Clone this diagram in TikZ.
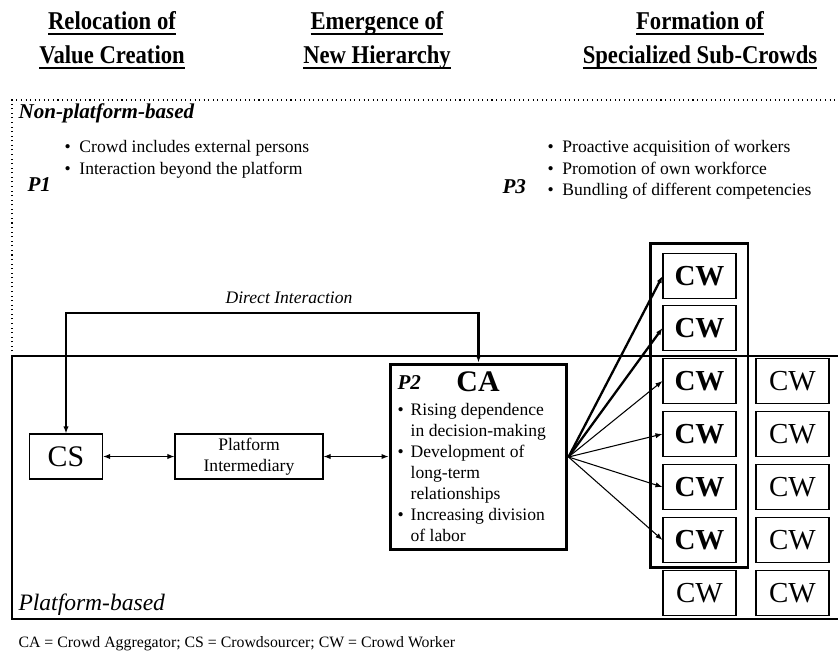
\documentclass[tikz,border=0pt]{standalone}
\usepackage{fontspec}
\setmainfont{Liberation Serif}
\usetikzlibrary{arrows.meta}

\newcommand{\headline}[1]{\scalebox{1}[1.13]{\setbox0\hbox{#1}\rlap{\rule[-2.9pt]{\wd0}{1pt}}\box0}}

\begin{document}
\begin{tikzpicture}[x=0.02cm, y=-0.02cm, line width=0.6pt,
    every node/.style={inner sep=0pt},
    head/.style={font=\bfseries\fontsize{12.9}{17}\selectfont, anchor=base},
    cwbox/.style={draw, minimum width=1.46cm, minimum height=0.9cm, font=\fontsize{16.5}{18}\selectfont},
    cwbold/.style={cwbox, font=\bfseries\fontsize{16.5}{18}\selectfont},
    flow/.style={->, >={Latex[length=4pt,width=3pt]}},
    strong/.style={flow, line width=1.3pt},
    prop/.style={font=\bfseries\itshape\fontsize{12}{14}\selectfont},
    bullets/.style={anchor=north west, font=\fontsize{10}{12.3}\selectfont}]

    \useasboundingbox (0,0) rectangle (838,656);

    % Headings
    \node[head] (h1a) at (112,29) {\headline{Relocation of}};
    \node[head] (h1b) at (112,63) {\headline{Value Creation}};
    \node[head] (h2a) at (377,29) {\headline{Emergence of}};
    \node[head] (h2b) at (377,63) {\headline{New Hierarchy}};
    \node[head] (h3a) at (700,29) {\headline{Formation of}};
    \node[head] (h3b) at (700,63) {\headline{Specialized Sub-Crowds}};

    % Regions
    \draw[dotted] (12,356) -- (12,100) -- (838,100);
    \draw (838,356) -- (12,356) -- (12,619) -- (838,619);
    \node[anchor=west, font=\bfseries\itshape\fontsize{12}{14}\selectfont] (npb) at (18,113) {Non-platform-based};
    \node[anchor=west, font=\itshape\fontsize{13.4}{15}\selectfont] (pb) at (18,605) {Platform-based};

    % Propositions outside the platform
    \node[prop, anchor=west] (p1) at (27,185) {P1};
    \node[bullets] (p1list) at (64,137)
        {\begin{tabular}{@{}l@{\hspace{5pt}}l@{}}
        \textbullet & Crowd includes external persons\\
        \textbullet & Interaction beyond the platform
        \end{tabular}};
    \node[prop, anchor=west] (p3) at (502,187) {P3};
    \node[bullets] (p3list) at (547,137)
        {\begin{tabular}{@{}l@{\hspace{5pt}}l@{}}
        \textbullet & Proactive acquisition of workers\\
        \textbullet & Promotion of own workforce\\
        \textbullet & Bundling of different competencies
        \end{tabular}};

    % Platform-based actors
    \node[draw, minimum width=1.46cm, minimum height=0.9cm, font=\fontsize{17}{19}\selectfont] (cs) at (66,456.5) {CS};
    \node[draw, minimum width=2.96cm, minimum height=0.9cm, align=center, font=\fontsize{10}{12}\selectfont] (pi) at (249,456.5) {Platform\\Intermediary};
    \node[draw, line width=1.7pt, minimum width=3.54cm, minimum height=3.72cm] (ca) at (478.5,457) {};
    \node[prop, anchor=west] (p2) at (397,383) {P2};
    \node[font=\bfseries\fontsize{17}{19}\selectfont] (calabel) at (478,382) {CA};
    \node[bullets, font=\fontsize{10}{12}\selectfont] (p2list) at (397,400)
        {\begin{tabular}{@{}l@{\hspace{4pt}}l@{}}
        \textbullet & Rising dependence\\
                    & in decision-making\\
        \textbullet & Development of\\
                    & long-term\\
                    & relationships\\
        \textbullet & Increasing division\\
                    & of labor
        \end{tabular}};

    % Crowd workers
    \node[draw, line width=1.7pt, minimum width=1.96cm, minimum height=6.5cm] (sub) at (699,405.5) {};
    \foreach \r/\y in {1/276,2/328,3/381,4/434,5/487,6/540}
        \node[cwbold] (cw\r) at (699.5,\y) {CW};
    \node[cwbox] (cw7) at (699.5,593) {CW};
    \foreach \r/\y in {3/381,4/434,5/487,6/540,7/593}
        \node[cwbox] (cwr\r) at (792.5,\y) {CW};

    % Connectors
    \coordinate (top) at (478.5,313);
    \draw[strong, <->] (cs.north) |- (top) -- (ca.north);
    \node[font=\itshape\fontsize{10}{12}\selectfont] (di) at (289,298) {Direct Interaction};
    \draw[flow, <->] (cs.east) -- (pi.west);
    \draw[flow, <->] (pi.east) -- (pi.east -| ca.west);
    \foreach \r in {1,2}
        \draw[strong] (ca.east) -- (cw\r.west);
    \foreach \r in {3,...,6}
        \draw[flow] (ca.east) -- (cw\r.west);

    \node[anchor=west, font=\fontsize{9}{11}\selectfont] (note) at (18,644) {CA = Crowd Aggregator; CS = Crowdsourcer; CW = Crowd Worker};
\end{tikzpicture}
\end{document}
